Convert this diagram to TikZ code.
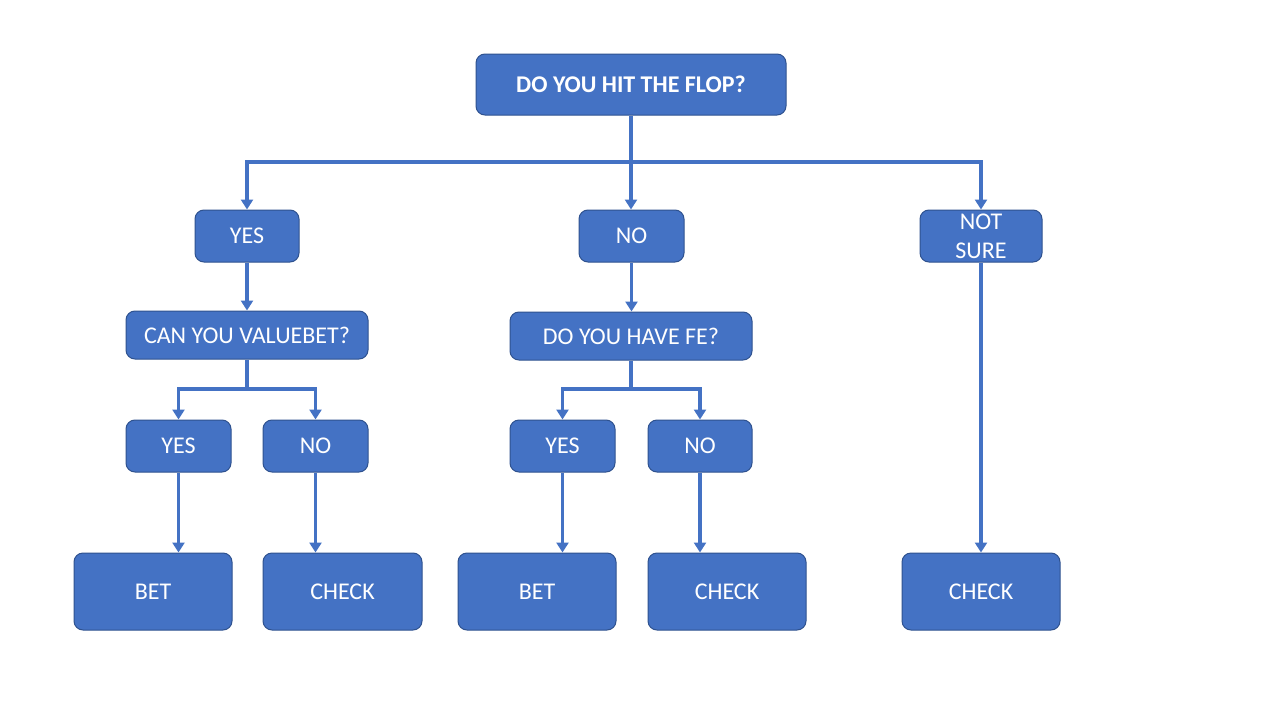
\documentclass[tikz,border=0pt]{standalone}
\usepackage{fontspec}
\setmainfont{Carlito}
\usetikzlibrary{arrows.meta}
\definecolor{boxfill}{HTML}{4472C4}
\definecolor{boxline}{HTML}{2F528F}
\tikzset{
  box/.style={draw=boxline, line width=1pt, fill=boxfill, rounded corners=9pt,
    text=white, font=\fontsize{24}{29}\selectfont, align=center, inner sep=0pt},
  arr/.style={draw=boxfill, line width=3.2pt, -{Triangle[width=12pt,length=10pt]}},
  ln/.style={draw=boxfill, line width=3.2pt}
}
\begin{document}
\begin{tikzpicture}[x=1pt,y=-1pt]
\useasboundingbox (0,0) rectangle (1280,720);
\fill[white] (0,0) rectangle (1280,720);
% nodes
\node[box, minimum width=310pt, minimum height=61pt, font=\fontsize{24}{29}\selectfont\bfseries] (top) at (631,84.5) {DO YOU HIT THE FLOP?};
\node[box, minimum width=104pt, minimum height=52pt] (yes1) at (247,236) {YES};
\node[box, minimum width=105pt, minimum height=52pt] (no1) at (631.5,236) {NO};
\node[box, minimum width=122pt, minimum height=52pt] (ns) at (981,236) {NOT\\SURE};
\node[box, minimum width=242pt, minimum height=48pt] (val) at (247,335) {CAN YOU VALUEBET?};
\node[box, minimum width=242pt, minimum height=48pt] (fe) at (631,336) {DO YOU HAVE FE?};
\node[box, minimum width=105pt, minimum height=52pt] (yes2) at (178.5,446) {YES};
\node[box, minimum width=105pt, minimum height=52pt] (no2) at (315.5,446) {NO};
\node[box, minimum width=105pt, minimum height=52pt] (yes3) at (562.5,446) {YES};
\node[box, minimum width=104pt, minimum height=52pt] (no3) at (700,446) {NO};
\node[box, minimum width=158pt, minimum height=77pt] (bet1) at (153,591.5) {BET};
\node[box, minimum width=159pt, minimum height=77pt] (chk1) at (342.5,591.5) {CHECK};
\node[box, minimum width=158pt, minimum height=77pt] (bet2) at (537,591.5) {BET};
\node[box, minimum width=158pt, minimum height=77pt] (chk2) at (727,591.5) {CHECK};
\node[box, minimum width=158pt, minimum height=77pt] (chk3) at (981,591.5) {CHECK};
% connectors
\coordinate (j1) at (631,162);
\draw[arr] (top.south) -- (top.south |- no1.north);
\draw[arr] (j1) -| (yes1.north);
\draw[arr] (j1) -| (ns.north);
\draw[arr] (yes1.south) -- (val.north);
\draw[arr] (no1.south) -- (no1.south |- fe.north);
\coordinate (j2) at (247,389);
\draw[ln] (val.south) -- (j2);
\draw[arr] (j2) -| (yes2.north);
\draw[arr] (j2) -| (no2.north);
\coordinate (j3) at (631,389);
\draw[ln] (fe.south) -- (j3);
\draw[arr] (j3) -| (yes3.north);
\draw[arr] (j3) -| (no3.north);
\draw[arr] (yes2.south) -- (yes2.south |- bet1.north);
\draw[arr] (no2.south) -- (no2.south |- chk1.north);
\draw[arr] (yes3.south) -- (yes3.south |- bet2.north);
\draw[arr] (no3.south) -- (no3.south |- chk2.north);
\draw[arr] (ns.south) -- (chk3.north);
\end{tikzpicture}
\end{document}
